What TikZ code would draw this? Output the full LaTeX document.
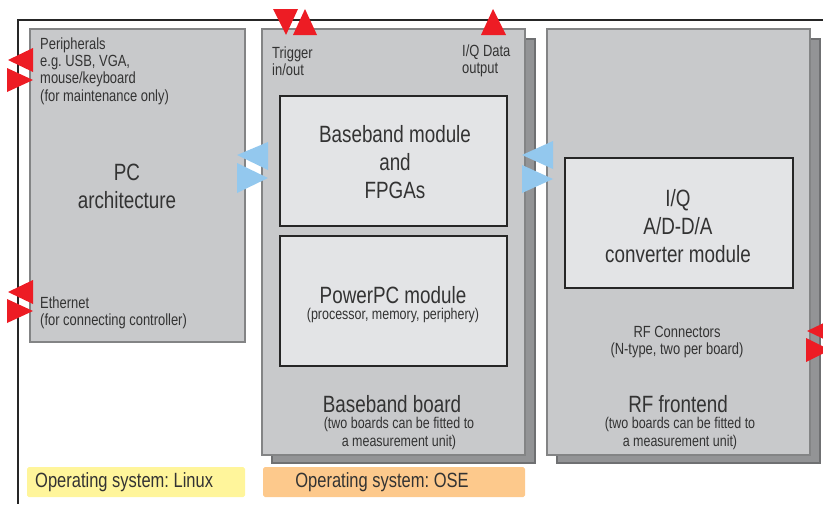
\documentclass[tikz,border=0pt]{standalone}
\usepackage{fontspec}
\setmainfont{Liberation Sans}[FakeStretch=0.80]
\definecolor{boardgray}{HTML}{C8C9CB}
\definecolor{boardline}{HTML}{838485}
\definecolor{shadowgray}{HTML}{939496}
\definecolor{shadowline}{HTML}{6F7072}
\definecolor{modulegray}{HTML}{E3E4E6}
\definecolor{sigred}{HTML}{ED1C24}
\definecolor{busblue}{HTML}{93C8EE}
\definecolor{linuxyellow}{HTML}{FFF59B}
\definecolor{oseorange}{HTML}{FDC98C}
\definecolor{txt}{HTML}{333333}
\frenchspacing
\begin{document}
\begin{tikzpicture}[x=0.03cm, y=-0.03cm,
  board/.style={fill=boardgray, draw=boardline, line width=1pt},
  boardshadow/.style={fill=shadowgray, draw=shadowline, line width=1pt},
  module/.style={fill=modulegray, draw=black!85, line width=1.5pt},
  sig/.style={fill=sigred},
  bus/.style={fill=busblue},
  ostag/.style={rounded corners=1.5pt},
  bigtext/.style={font=\fontsize{20.1}{23.9}\selectfont, align=center, text=txt, inner sep=0pt},
  midtext/.style={font=\fontsize{13.8}{14.8}\selectfont, text=txt, inner sep=0pt},
  smalltext/.style={font=\fontsize{13.3}{15.4}\selectfont, align=center, text=txt, inner sep=0pt},
  ostext/.style={font=\fontsize{17.6}{19}\selectfont, text=txt, inner sep=0pt}]
\useasboundingbox (0,0) rectangle (823,504);
\clip (0,0) rectangle (823,504);

% outer frame
\draw[line width=1.3pt, black!85] (823,20) -- (18,20) -- (18,504);

% boards
\draw[board] (30,29) rectangle (245,342);
\draw[boardshadow] (272,39) rectangle (535,463);
\draw[board] (262,29) rectangle (525,455);
\draw[boardshadow] (557,39) rectangle (820,463);
\draw[board] (547,29) rectangle (810,455);

% modules
\draw[module] (280,96) rectangle (507,226);
\draw[module] (280,236) rectangle (507,366);
\draw[module] (565,158) rectangle (793,288);

% operating systems
\fill[linuxyellow, ostag] (27,467) rectangle (245,497);
\fill[oseorange, ostag] (263,467) rectangle (525,497);

% signal markers
\fill[sig] (8,60) -- (33,48) -- (33,72) -- cycle;
\fill[sig] (7,68) -- (33,80) -- (7,92) -- cycle;
\fill[sig] (8,292) -- (33,280) -- (33,304) -- cycle;
\fill[sig] (7,299) -- (33,311) -- (7,323) -- cycle;
\fill[sig] (273,9) -- (298,9) -- (286,35) -- cycle;
\fill[sig] (293,35) -- (305,9) -- (317,35) -- cycle;
\fill[sig] (481,35) -- (493,9) -- (506,35) -- cycle;
\fill[sig] (807,331) -- (830,320) -- (830,342) -- cycle;
\fill[sig] (806,338) -- (830,350) -- (806,362) -- cycle;

% bus markers
\fill[bus] (237,155) -- (268,142) -- (268,170) -- cycle;
\fill[bus] (237,163) -- (268,178) -- (237,193) -- cycle;
\fill[bus] (522,155) -- (553,141) -- (553,169) -- cycle;
\fill[bus] (522,165) -- (553,179) -- (522,193) -- cycle;

% texts
\node[midtext, align=left, anchor=west] (periph) at (40,71)
  {Peripherals\\e.g. USB, VGA,\\mouse/keyboard\\(for maintenance only)};
\node[bigtext] (pcarch) at (127,186) {PC\\architecture};
\node[midtext, align=left, anchor=west] (ether) at (40,313)
  {Ethernet\\(for connecting controller)};
\node[midtext, align=left, anchor=west] (trig) at (272,61) {Trigger\\in/out};
\node[midtext, align=left, anchor=west] (iqout) at (462,61) {I/Q Data\\output};
\node[bigtext] (bbmod) at (395,162) {Baseband module\\and\\FPGAs};
\node[bigtext] (ppcmod) at (393,295) {PowerPC module};
\node[smalltext] (ppcinfo) at (393,315) {(processor, memory, periphery)};
\node[bigtext] (bbboard) at (392,404) {Baseband board};
\node[smalltext] (bbinfo) at (399,433) {(two boards can be fitted to\\a measurement unit)};
\node[bigtext] (iqmod) at (678,226) {I/Q\\A/D-D/A\\converter module};
\node[midtext, align=center] (rfconn) at (677,342) {RF Connectors\\(N-type, two per board)};
\node[bigtext] (rffront) at (678,404) {RF frontend};
\node[smalltext] (rfinfo) at (680,433) {(two boards can be fitted to\\a measurement unit)};
\node[ostext, anchor=west] (linux) at (35,482) {Operating system: Linux};
\node[ostext] (ose) at (382,482) {Operating system: OSE};
\end{tikzpicture}
\end{document}
